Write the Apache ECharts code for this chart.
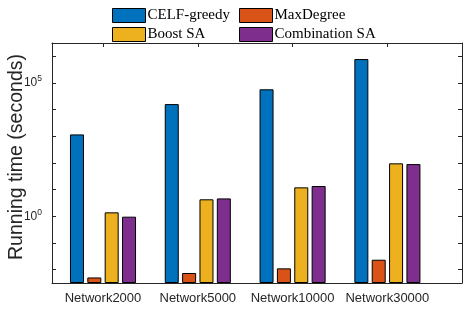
<!DOCTYPE html>
<html><head><meta charset="utf-8">
<script src="https://cdn.jsdelivr.net/npm/echarts@6/dist/echarts.min.js"></script>
<style>html,body{margin:0;padding:0;background:#fff}#c{width:463px;height:310px}</style>
</head><body><div id="c"></div>
<script>
// ---- data ----
const categories = ['Network2000', 'Network5000', 'Network10000', 'Network30000'];
const seriesNames = ['CELF-greedy', 'MaxDegree', 'Boost SA', 'Combination SA'];
const celfGreedy = [1180, 16200, 58000, 790000];
const maxDegree = [0.0051, 0.0075, 0.0112, 0.0236];
const boostSA = [1.41, 4.35, 12.2, 97];
const combinationSA = [0.97, 4.7, 13.7, 91];
const yTickExponents = [0, 5];           // labelled decades: 10^0, 10^5
const yAxisTitle = 'Running time (seconds)';

// ---- styling ----
const colors = ['#0072BD', '#D95319', '#EDB120', '#7E2F8E'];
const axisColor = '#262626';
const yMin = Math.pow(10, -2.5), yMax = Math.pow(10, 6.5);
const xMin = 0.462, xMax = 4.787;
const positions = categories.map((c, i) => i + 1);

const allValues = [celfGreedy, maxDegree, boostSA, combinationSA];

function yLabel(v) {
  const e = Math.log10(v);
  for (const t of yTickExponents) {
    if (Math.abs(e - t) < 1e-6) return '{b|10}{s|' + t + '}';
  }
  return '';
}

const chart = echarts.init(document.getElementById('c'), null, {renderer: 'canvas'});

const series = seriesNames.map((name, k) => ({
  name: name,
  type: 'bar',
  xAxisIndex: 0,
  yAxisIndex: 0,
  barWidth: 14,
  barGap: '24%',
  itemStyle: {color: colors[k], borderColor: '#000', borderWidth: 1},
  emphasis: {disabled: true},
  data: allValues[k].map((v, i) => [positions[i], v])
}));

const commonY = {
  type: 'log',
  logBase: 10,
  min: yMin,
  max: yMax,
  startValue: yMin,
  splitLine: {show: false},
  axisLine: {show: true, lineStyle: {color: axisColor, width: 1}},
  axisTick: {show: true, inside: true, length: 4, lineStyle: {color: axisColor}}
};

chart.setOption({
  animation: false,
  backgroundColor: '#fff',
  grid: {left: 52, right: 1, top: 43, bottom: 27, containLabel: false, outerBoundsMode: 'none'},
  legend: [
    {
      data: [seriesNames[0], seriesNames[2]],
      orient: 'vertical', left: 112, top: 8,
      itemWidth: 33, itemHeight: 14, itemGap: 4, padding: 0,
      icon: 'rect',
      itemStyle: {borderColor: '#000', borderWidth: 1},
      textStyle: {fontFamily: 'Liberation Serif', fontSize: 15, color: '#000', padding: [0, 0, 0, -3]},
      selectedMode: false
    },
    {
      data: [seriesNames[1], seriesNames[3]],
      orient: 'vertical', left: 239, top: 8,
      itemWidth: 33, itemHeight: 14, itemGap: 4, padding: 0,
      icon: 'rect',
      itemStyle: {borderColor: '#000', borderWidth: 1},
      textStyle: {fontFamily: 'Liberation Serif', fontSize: 15, color: '#000', padding: [0, 0, 0, -3]},
      selectedMode: false
    }
  ],
  xAxis: [
    {
      type: 'value', min: xMin, max: xMax, position: 'bottom',
      splitLine: {show: false},
      axisLine: {show: true, onZero: false, lineStyle: {color: axisColor, width: 1}},
      axisTick: {show: false},
      axisLabel: {
        customValues: positions,
        formatter: v => categories[Math.round(v) - 1] || '',
        color: axisColor, fontFamily: 'Liberation Sans', fontSize: 13, margin: 9
      }
    },
    {
      type: 'value', min: xMin, max: xMax, position: 'top',
      splitLine: {show: false},
      axisLine: {show: true, onZero: false, lineStyle: {color: axisColor, width: 1}},
      axisTick: {show: true, inside: true, length: 4, customValues: positions, lineStyle: {color: axisColor}},
      axisLabel: {show: false}
    }
  ],
  yAxis: [
    Object.assign({}, commonY, {
      position: 'left',
      name: yAxisTitle,
      nameLocation: 'middle',
      nameGap: 25,
      nameMoveOverlap: false,
      nameTextStyle: {fontFamily: 'Liberation Sans', fontSize: 19.5, color: axisColor, padding: [0, 0, 0, 12]},
      axisLabel: {
        formatter: yLabel,
        margin: 10,
        color: axisColor,
        rich: {
          b: {fontFamily: 'Liberation Sans', fontSize: 12, color: axisColor},
          s: {fontFamily: 'Liberation Sans', fontSize: 8.5, color: axisColor, padding: [0, 0, 8, 0]}
        }
      }
    }),
    Object.assign({}, commonY, {
      position: 'right',
      axisLabel: {show: false}
    })
  ],
  series: series
});
</script>
</body></html>
